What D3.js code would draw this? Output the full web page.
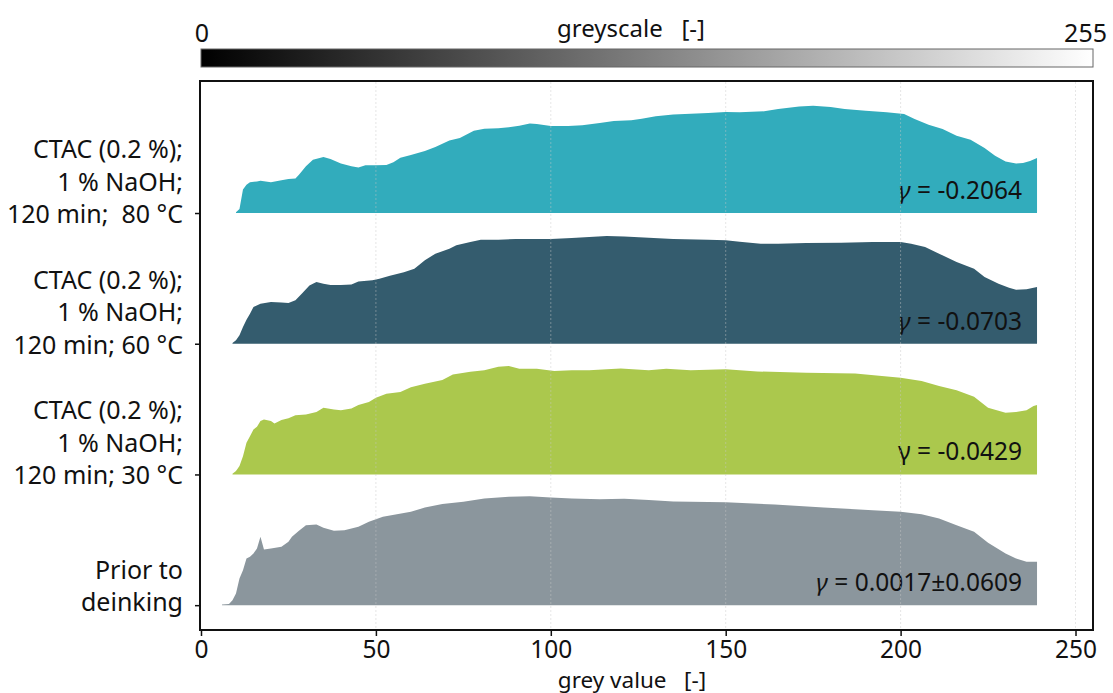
<!DOCTYPE html>
<html>
<head>
<meta charset="utf-8">
<script src="https://cdn.jsdelivr.net/npm/d3@7"></script>
<style>
  body { margin: 0; background: #fff; }
  svg text { font-family: "Noto Sans", "Open Sans", sans-serif; fill: #111; }
</style>
</head>
<body>
<div id="chart"></div>
<script>
"use strict";

// grey value histograms, height in % of the row spacing
var greyCtac80 = [10, 11, 12, 13, 14, 16, 17, 20, 23, 25, 27, 28, 30, 32, 35, 37, 40, 43, 45, 47, 50, 53, 55, 57, 60, 64, 67, 71, 74, 78, 81, 85, 88, 91, 94, 96, 100, 105, 109, 114, 118, 123, 126, 130, 135, 145, 150, 154, 161, 165, 171, 175, 180, 184, 190, 196, 201, 204, 208, 212, 216, 220, 224, 227, 230, 233, 235, 237, 239];
var freqCtac80 = [0.5, 3.1, 17.9, 21.7, 23.5, 24.2, 24.7, 23.5, 25.0, 26.0, 26.5, 29.3, 35.7, 40.8, 42.9, 41.3, 37.8, 35.7, 34.9, 36.5, 36.5, 36.7, 38.8, 42.3, 44.4, 47.4, 50.5, 55.4, 57.4, 63.0, 64.5, 64.8, 65.6, 66.8, 68.4, 68.1, 66.6, 66.6, 67.1, 68.9, 70.4, 70.9, 72.2, 74.0, 75.3, 76.5, 77.3, 77.0, 77.8, 79.6, 81.4, 82.1, 81.1, 79.6, 78.3, 77.0, 75.8, 71.9, 67.6, 64.3, 59.2, 56.1, 49.7, 43.9, 39.5, 37.8, 38.3, 39.8, 42.1];

var greyCtac60 = [9, 10, 11, 12, 13, 14, 15, 17, 20, 23, 25, 27, 29, 31, 33, 35, 37, 40, 43, 45, 49, 51, 54, 58, 61, 64, 67, 71, 73, 77, 80, 85, 90, 96, 100, 106, 111, 116, 121, 128, 135, 145, 150, 154, 160, 165, 173, 183, 192, 200, 203, 207, 211, 216, 221, 224, 228, 231, 233, 236, 239];
var freqCtac60 = [0.5, 2.6, 6.4, 12.8, 18.4, 23.0, 28.1, 30.6, 31.9, 31.6, 31.1, 33.2, 38.8, 44.6, 47.2, 45.9, 44.9, 44.9, 45.4, 47.7, 48.5, 49.7, 52.0, 54.6, 57.4, 63.8, 68.9, 72.7, 75.3, 77.8, 79.6, 79.6, 80.1, 80.1, 80.1, 80.9, 81.6, 82.4, 82.1, 81.1, 80.1, 79.6, 79.1, 78.1, 76.5, 76.5, 77.0, 77.3, 77.8, 77.8, 76.5, 74.0, 68.9, 62.5, 57.4, 51.0, 45.9, 42.9, 41.3, 41.6, 43.4];

var greyCtac30 = [9, 10, 11, 12, 13, 14, 15, 16, 17, 18, 20, 21, 23, 25, 27, 30, 33, 35, 38, 40, 43, 45, 48, 50, 53, 57, 60, 64, 69, 72, 77, 81, 85, 88, 91, 96, 101, 106, 111, 116, 120, 128, 133, 140, 150, 159, 173, 187, 200, 206, 211, 216, 221, 225, 230, 233, 236, 238, 239];
var freqCtac30 = [0.5, 2.6, 6.4, 14.0, 24.2, 29.3, 34.4, 36.5, 40.8, 42.1, 40.8, 39.0, 41.6, 42.9, 45.2, 45.9, 47.7, 51.0, 49.7, 49.2, 50.5, 53.1, 55.4, 58.7, 61.7, 63.0, 66.8, 69.4, 72.2, 76.5, 78.6, 79.8, 82.4, 82.9, 80.9, 80.9, 79.1, 79.8, 79.8, 80.4, 81.1, 79.8, 80.9, 79.8, 80.4, 78.8, 77.8, 77.3, 74.0, 71.4, 67.6, 64.5, 59.4, 51.0, 47.2, 47.7, 49.2, 52.3, 53.1];

var greyPrior = [6, 8, 9, 10, 11, 12, 13, 14, 15, 16, 17, 18, 20, 23, 25, 26, 28, 30, 33, 35, 38, 41, 45, 48, 52, 56, 60, 64, 69, 75, 81, 88, 94, 100, 106, 114, 121, 128, 135, 150, 164, 178, 192, 200, 206, 211, 216, 221, 225, 230, 233, 236, 239];
var freqPrior = [0.5, 0.8, 3.8, 8.9, 20.4, 26.8, 35.7, 37.0, 39.5, 43.4, 52.3, 42.6, 43.4, 44.6, 48.5, 52.3, 56.9, 61.2, 61.7, 59.2, 56.9, 57.4, 59.9, 63.8, 67.6, 69.6, 71.4, 74.7, 77.3, 79.1, 81.6, 82.9, 83.4, 82.4, 81.6, 81.1, 81.4, 80.4, 79.3, 78.8, 77.0, 74.7, 72.7, 71.4, 69.6, 66.3, 61.2, 56.1, 47.7, 39.5, 35.7, 33.2, 33.2];

var rowLabels = [
  ["Prior to", "deinking"],
  ["CTAC (0.2 %);", "1 % NaOH;", "120 min; 30 °C"],
  ["CTAC (0.2 %);", "1 % NaOH;", "120 min; 60 °C"],
  ["CTAC (0.2 %);", "1 % NaOH;", "120 min;  80 °C"]
];
var gammaLabels = ["0.0017±0.0609", "-0.0429", "-0.0703", "-0.2064"];
var gammaItalic = [true, false, true, true];
var rowColors = ["#8b969d", "#abc84d", "#345c6e", "#32acbc"];
var xTicks = [0, 50, 100, 150, 200, 250];

var series = [
  { grey: greyPrior, freq: freqPrior },
  { grey: greyCtac30, freq: freqCtac30 },
  { grey: greyCtac60, freq: freqCtac60 },
  { grey: greyCtac80, freq: freqCtac80 }
];

var W = 1113, H = 693;
var svg = d3.select("#chart").append("svg").attr("width", W).attr("height", H);

var x = d3.scaleLinear().domain([0, 255]).range([201, 1093]);
var y = d3.scaleLinear().domain([-0.19, 4.01]).range([630, 81]);

// colour bar on top
var grad = svg.append("defs").append("linearGradient").attr("id", "greyGrad");
grad.append("stop").attr("offset", "0%").attr("stop-color", "#000");
grad.append("stop").attr("offset", "100%").attr("stop-color", "#fff");

svg.append("rect")
  .attr("x", x(0))
  .attr("y", 49)
  .attr("width", x(255) - x(0))
  .attr("height", 18)
  .attr("fill", "url(#greyGrad)")
  .attr("stroke", "#666")
  .attr("stroke-width", 1);

svg.append("text").attr("x", x(0) + 1).attr("y", 42).attr("text-anchor", "middle")
  .style("font-size", "25px").text("0");
svg.append("text").attr("x", 1107).attr("y", 42).attr("text-anchor", "end")
  .style("font-size", "25px").text("255");
svg.append("text").attr("x", 631).attr("y", 37).attr("text-anchor", "middle")
  .style("font-size", "24px").attr("xml:space", "preserve").text("greyscale   [-]");

// histograms
var area = d3.area()
  .x(function(d) { return x(d[0]); })
  .y0(function(d) { return y(d[2]); })
  .y1(function(d) { return y(d[2] + d[1] / 100); })
  .curve(d3.curveLinear);

series.forEach(function(s, i) {
  var pts = s.grey.map(function(g, j) { return [g, s.freq[j], i]; });
  svg.append("path")
    .datum(pts)
    .attr("d", area)
    .attr("fill", rowColors[i]);

  var t = svg.append("text")
    .attr("x", 1022)
    .attr("y", y(i) - 14)
    .attr("text-anchor", "end")
    .style("font-size", "24.5px");
  t.append("tspan").style("font-style", gammaItalic[i] ? "italic" : "normal").text("γ");
  t.append("tspan").text(" = " + gammaLabels[i]);
});

// faint vertical grid
svg.append("g")
  .selectAll("line")
  .data(xTicks.slice(1))
  .enter()
  .append("line")
  .attr("x1", function(d) { return x(d); })
  .attr("x2", function(d) { return x(d); })
  .attr("y1", 82)
  .attr("y2", 629)
  .attr("stroke", "#c8c8c8")
  .attr("stroke-opacity", 0.45)
  .attr("stroke-dasharray", "2,2");

// frame
svg.append("rect")
  .attr("x", 200)
  .attr("y", 81)
  .attr("width", 893)
  .attr("height", 549)
  .attr("fill", "none")
  .attr("stroke", "#111")
  .attr("stroke-width", 2);

// axes
var xAxis = svg.append("g")
  .attr("transform", "translate(0,630)")
  .call(d3.axisBottom(x).tickValues(xTicks).tickSize(6).tickPadding(5));
xAxis.select(".domain").remove();
xAxis.selectAll("line").attr("stroke", "#111").attr("stroke-width", 1.5);
xAxis.selectAll("text").style("font-size", "24.5px").attr("fill", "#111")
  .style("font-family", "'Noto Sans', sans-serif");

svg.append("text").attr("x", 632).attr("y", 687.5).attr("text-anchor", "middle")
  .style("font-size", "22.5px").attr("xml:space", "preserve").text("grey value   [-]");

var yAxis = svg.append("g")
  .attr("transform", "translate(200,0)")
  .call(d3.axisLeft(y).tickValues([0, 1, 2, 3]).tickSize(5).tickFormat(""));
yAxis.select(".domain").remove();
yAxis.selectAll("line").attr("stroke", "#111").attr("stroke-width", 1.5);

// row labels, last line sits on the tick
rowLabels.forEach(function(lines, i) {
  var t = svg.append("text")
    .attr("text-anchor", "end")
    .attr("xml:space", "preserve")
    .style("font-size", "25px");
  var n = lines.length;
  lines.forEach(function(l, j) {
    t.append("tspan")
      .attr("x", 183)
      .attr("y", y(i) + 10 - (n - 1 - j) * 32.5 - (n === 2 ? 4 : 0))
      .text(l);
  });
});
</script>
</body>
</html>
